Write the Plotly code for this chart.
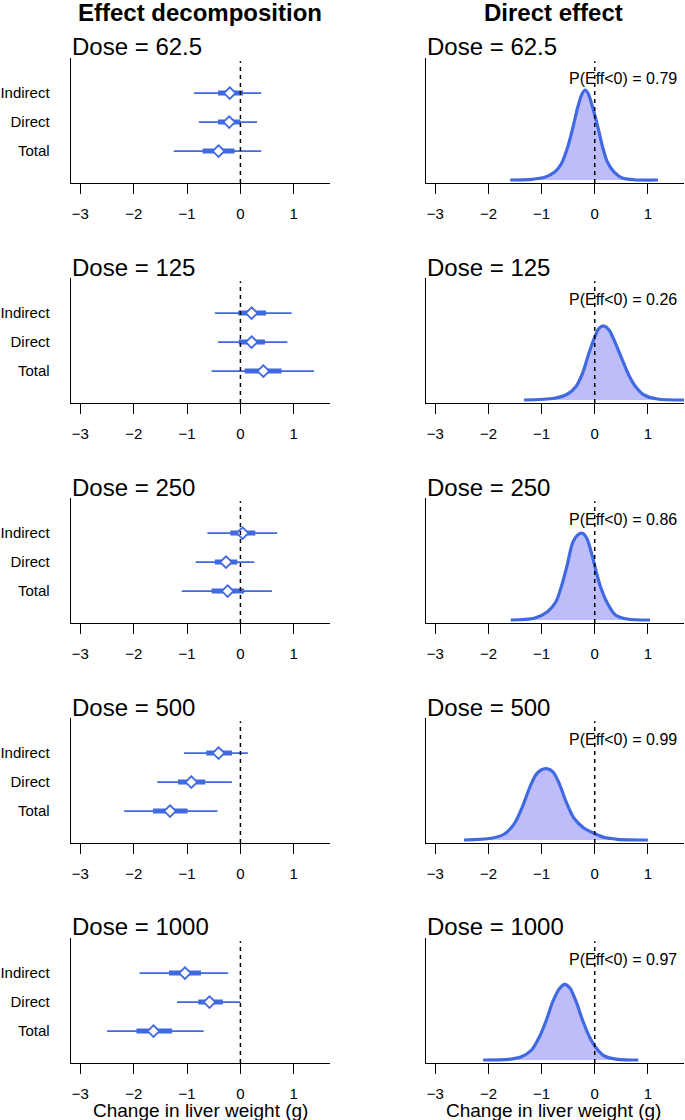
import plotly.graph_objects as go

# ---- data ----
doses = ["62.5", "125", "250", "500", "1000"]
effects = ["Indirect", "Direct", "Total"]
effect_pos = [3, 2, 1]

# per dose: [Indirect, Direct, Total]
median = [[-0.20, -0.21, -0.41], [0.21, 0.21, 0.43], [0.04, -0.27, -0.24],
          [-0.41, -0.92, -1.32], [-1.04, -0.58, -1.63]]
ci95_lo = [[-0.87, -0.78, -1.25], [-0.48, -0.42, -0.54], [-0.62, -0.84, -1.10],
           [-1.06, -1.56, -2.18], [-1.89, -1.19, -2.50]]
ci95_hi = [[0.39, 0.31, 0.39], [0.96, 0.88, 1.38], [0.69, 0.26, 0.59],
           [0.14, -0.16, -0.43], [-0.23, 0.00, -0.69]]
ci50_lo = [[-0.42, -0.42, -0.71], [-0.04, -0.03, 0.08], [-0.19, -0.48, -0.54],
           [-0.64, -1.17, -1.64], [-1.34, -0.79, -1.95]]
ci50_hi = [[0.05, 0.00, -0.11], [0.48, 0.46, 0.77], [0.28, -0.06, 0.07],
           [-0.16, -0.66, -0.99], [-0.74, -0.33, -1.28]]

p_neg = ["0.79", "0.26", "0.86", "0.99", "0.97"]

# posterior density of the direct effect (x in g, density)
dens_x = [
    [-1.59, -1.19, -0.94, -0.76, -0.63, -0.51, -0.41, -0.32, -0.24, -0.18, -0.12,
     -0.04, 0.06, 0.15, 0.24, 0.37, 0.52, 0.74, 1.19],
    [-1.33, -0.76, -0.51, -0.36, -0.23, -0.11, -0.01, 0.08, 0.175, 0.27, 0.39,
     0.52, 0.64, 0.77, 0.93, 1.18, 1.75],
    [-1.58, -1.14, -0.89, -0.73, -0.61, -0.51, -0.42, -0.32, -0.23, -0.15, -0.06,
     0.02, 0.11, 0.24, 0.39, 0.61, 1.04],
    [-2.46, -1.95, -1.70, -1.51, -1.36, -1.23, -1.11, -1.01, -0.91, -0.79, -0.67,
     -0.54, -0.39, -0.20, -0.01, 0.17, 0.43, 1.00],
    [-2.10, -1.63, -1.38, -1.19, -1.04, -0.91, -0.79, -0.66, -0.57, -0.47, -0.35,
     -0.23, -0.10, 0.03, 0.18, 0.43, 0.82],
]
dens_y = [
    [0.0, 0.014, 0.054, 0.154, 0.32, 0.654, 1.054, 1.454, 1.72, 1.80, 1.72,
     1.454, 1.054, 0.654, 0.354, 0.154, 0.04, 0.005, 0.0],
    [0.0, 0.034, 0.12, 0.26, 0.534, 0.934, 1.234, 1.434, 1.48, 1.40, 1.134,
     0.80, 0.50, 0.266, 0.10, 0.02, 0.0],
    [0.0, 0.034, 0.166, 0.366, 0.734, 1.134, 1.534, 1.70, 1.734, 1.634, 1.334,
     1.00, 0.66, 0.334, 0.10, 0.02, 0.0],
    [0.0, 0.034, 0.12, 0.334, 0.666, 1.034, 1.30, 1.40, 1.426, 1.366, 1.134,
     0.766, 0.434, 0.234, 0.134, 0.054, 0.014, 0.0],
    [0.0, 0.014, 0.066, 0.20, 0.466, 0.80, 1.166, 1.434, 1.514, 1.446, 1.166,
     0.80, 0.466, 0.234, 0.08, 0.014, 0.0],
]

# ---- styling ----
W, H = 685, 1120
BLUE = "#4169E1"
FILL = "rgba(185,185,250,0.95)"
FONT = "Liberation Sans, Arial, sans-serif"
XRANGE = [-3.18, 1.68]


def px(p):
    return p / W


def py(p):
    return 1 - p / H


fig = go.Figure()
layout = dict(width=W, height=H, margin=dict(l=0, r=0, t=0, b=0),
              plot_bgcolor="white", paper_bgcolor="white", showlegend=False,
              font=dict(family=FONT, color="black"))
shapes, annotations = [], []

col_px = [(69, 329), (425, 684)]

for i, dose in enumerate(doses):
    top, bot = 58 + 220 * i, 183 + 220 * i
    ydom = [py(bot), py(top)]
    for c in range(2):
        n = 2 * i + c + 1
        xs = "" if n == 1 else str(n)
        xdom = [px(col_px[c][0]), min(px(col_px[c][1]), 1.0)]
        layout["xaxis" + xs] = dict(
            domain=xdom, anchor="y" + xs, range=XRANGE,
            tickvals=[-3, -2, -1, 0, 1], ticks="outside", ticklen=10,
            tickwidth=1, tickcolor="black", showline=True, linecolor="black",
            linewidth=1.3, showgrid=False, zeroline=False,
            tickfont=dict(size=15), ticklabelstandoff=7)
        ycfg = dict(domain=ydom, anchor="x" + xs, showline=True,
                    linecolor="black", linewidth=1.3, showgrid=False,
                    zeroline=False, ticks="")
        if c == 0:
            ycfg.update(range=[-0.1, 4.21], tickvals=effect_pos, ticktext=effects,
                        tickfont=dict(size=15), ticklabelstandoff=17)
        else:
            ycfg.update(range=[-0.06, 2.44], showticklabels=False)
        layout["yaxis" + xs] = ycfg

        # dashed zero line
        shapes.append(dict(type="line", xref="x" + xs, yref="y" + xs + " domain",
                           x0=0, x1=0, y0=0, y1=0.975,
                           line=dict(color="black", width=1.5, dash="4px,4px")))
        # dose title
        annotations.append(dict(text="Dose = " + dose, xref="paper", yref="paper",
                                x=px(col_px[c][0] - 1), y=py(47 + 220 * i),
                                xanchor="left", yanchor="middle", showarrow=False,
                                font=dict(size=24)))

    # left: interval plot
    xa, ya = ("x", "y") if i == 0 else ("x" + str(2 * i + 1), "y" + str(2 * i + 1))
    thin_x, thin_y, thick_x, thick_y = [], [], [], []
    for k in range(3):
        thin_x += [ci95_lo[i][k], ci95_hi[i][k], None]
        thin_y += [effect_pos[k], effect_pos[k], None]
        thick_x += [ci50_lo[i][k], ci50_hi[i][k], None]
        thick_y += [effect_pos[k], effect_pos[k], None]
    fig.add_trace(go.Scatter(x=thin_x, y=thin_y, mode="lines", xaxis=xa, yaxis=ya,
                             line=dict(color=BLUE, width=1.6)))
    fig.add_trace(go.Scatter(x=thick_x, y=thick_y, mode="lines", xaxis=xa, yaxis=ya,
                             line=dict(color=BLUE, width=5)))
    fig.add_trace(go.Scatter(x=median[i], y=effect_pos, mode="markers",
                             xaxis=xa, yaxis=ya,
                             marker=dict(symbol="diamond", size=9, color="white",
                                         line=dict(color=BLUE, width=1.8))))

    # right: density of direct effect
    xs = str(2 * i + 2)
    fig.add_trace(go.Scatter(x=dens_x[i], y=dens_y[i], mode="lines", fill="tozeroy",
                             fillcolor=FILL, xaxis="x" + xs, yaxis="y" + xs,
                             line=dict(color=BLUE, width=3.2, shape="spline",
                                       smoothing=0.8)))
    annotations.append(dict(text="P(Eff<0) = " + p_neg[i], xref="x" + xs,
                            yref="paper", x=0.54, y=py(79 + 220 * i),
                            xanchor="center", yanchor="middle", showarrow=False,
                            font=dict(size=16)))

# column titles and x-axis titles
for cx, title in [(199, "Effect decomposition"), (553, "Direct effect")]:
    annotations.append(dict(text="<b>" + title + "</b>", xref="paper", yref="paper",
                            x=px(cx), y=py(13), xanchor="center",
                            yanchor="middle", showarrow=False, font=dict(size=24)))
    annotations.append(dict(text="Change in liver weight (g)", xref="paper",
                            yref="paper", x=px(cx), y=py(1110),
                            xanchor="center", yanchor="middle", showarrow=False,
                            font=dict(size=19)))

layout["shapes"] = shapes
layout["annotations"] = annotations
fig.update_layout(**layout)

# drop the default 8px body margin so the figure fills the window exactly
fig.write_html("out.html", config={"displayModeBar": False},
               post_script="document.body.style.margin='0px';"
                           "document.body.style.overflow='hidden';")
